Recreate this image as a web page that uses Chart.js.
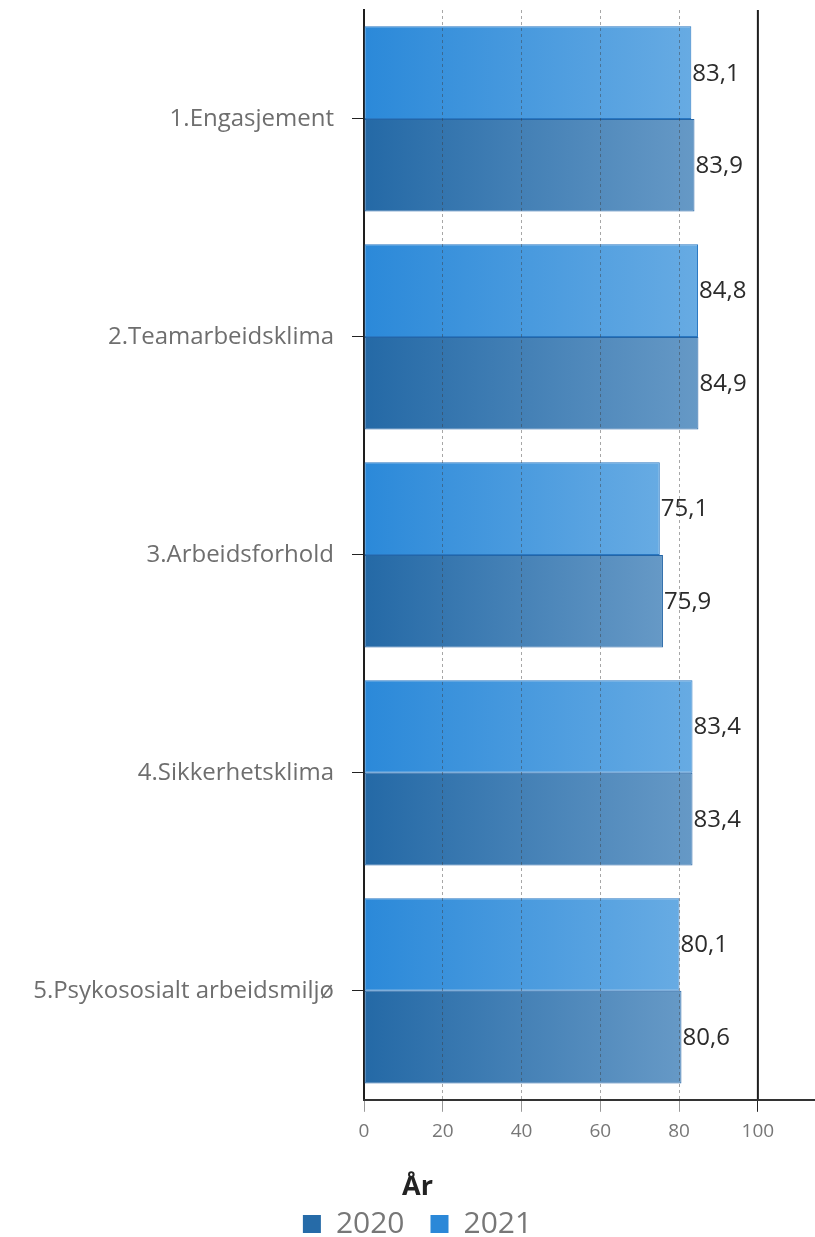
<!DOCTYPE html>
<html>
<head>
<meta charset="utf-8">
<script src="https://cdn.jsdelivr.net/npm/chart.js@4/dist/chart.umd.min.js"></script>
<style>
  body { margin: 0; background: #fff; }
  #wrap { width: 815px; height: 1237px; position: relative; }
</style>
</head>
<body>
<div id="wrap"><canvas id="barChart"></canvas></div>
<script>
const categories = ['1.Engasjement', '2.Teamarbeidsklima', '3.Arbeidsforhold', '4.Sikkerhetsklima', '5.Psykososialt arbeidsmiljø'];
const values2021 = [83.1, 84.8, 75.1, 83.4, 80.1];
const values2020 = [83.9, 84.9, 75.9, 83.4, 80.6];
const xTicks = [0, 20, 40, 60, 80, 100];

const FONT = "'Open Sans', 'Noto Sans', sans-serif";

function barGradient(from, to) {
    return function (context) {
        const chart = context.chart;
        const area = chart.chartArea;
        if (!area || context.type !== 'data') return from;
        const x = chart.scales.x;
        const x0 = x.getPixelForValue(0);
        const x1 = x.getPixelForValue(context.raw);
        const g = chart.ctx.createLinearGradient(x0, 0, x1, 0);
        g.addColorStop(0, from);
        g.addColorStop(1, to);
        return g;
    };
}

// value labels at bar ends
const valueLabels = {
    id: 'valueLabels',
    afterDatasetsDraw(chart) {
        const ctx = chart.ctx;
        ctx.save();
        ctx.font = "24px " + FONT;
        ctx.fillStyle = '#2b2b2b';
        ctx.textBaseline = 'middle';
        ctx.textAlign = 'left';
        chart.data.datasets.forEach((ds, i) => {
            chart.getDatasetMeta(i).data.forEach((el, j) => {
                const txt = ds.data[j].toFixed(1).replace('.', ',');
                ctx.fillText(txt, el.x + 1, el.y + 1);
            });
        });
        ctx.restore();
    }
};

// solid line at 100
const maxLine = {
    id: 'maxLine',
    beforeDatasetsDraw(chart) {
        const ctx = chart.ctx;
        const a = chart.chartArea;
        const px = chart.scales.x.getPixelForValue(100);
        ctx.save();
        ctx.strokeStyle = '#1e1e1e';
        ctx.lineWidth = 2;
        ctx.beginPath();
        ctx.moveTo(px, a.top);
        ctx.lineTo(px, a.bottom);
        ctx.stroke();
        ctx.restore();
    }
};

const ctx = document.getElementById('barChart').getContext('2d');
const myChart = new Chart(ctx, {
    type: 'bar',
    plugins: [valueLabels, maxLine],
    data: {
        labels: categories,
        datasets: [
            {
                label: '2021',
                data: values2021,
                backgroundColor: barGradient('#2b89d9', '#67abe3'),
                borderColor: '#2a78c2',
                borderWidth: 1,
                borderSkipped: false,
                legendColor: '#2b88d8'
            },
            {
                label: '2020',
                data: values2020,
                backgroundColor: barGradient('#2469a6', '#6699c6'),
                borderColor: '#2465a6',
                borderWidth: 1,
                borderSkipped: false,
                legendColor: '#266ba8'
            }
        ]
    },
    options: {
        indexAxis: 'y',
        responsive: true,
        maintainAspectRatio: false,
        animation: false,
        datasets: {
            bar: { categoryPercentage: 0.85, barPercentage: 1 }
        },
        layout: { padding: { top: 10, left: 20, right: 0, bottom: -12 } },
        plugins: {
            tooltip: { enabled: false },
            legend: {
                position: 'bottom',
                title: {
                    display: true,
                    text: 'År',
                    color: '#222',
                    font: { size: 27, weight: 'bold', family: FONT },
                    padding: { top: 23, bottom: -23 }
                },
                labels: {
                    color: '#777',
                    font: { size: 30, family: FONT },
                    boxWidth: 18,
                    boxHeight: 18,
                    padding: 26,
                    sort: (a, b) => b.datasetIndex - a.datasetIndex,
                    generateLabels(chart) {
                        return chart.data.datasets.map((ds, i) => ({
                            text: ds.label,
                            fillStyle: ds.legendColor,
                            strokeStyle: ds.legendColor,
                            lineWidth: 0,
                            fontColor: '#777',
                            datasetIndex: i,
                            hidden: false
                        }));
                    }
                }
            }
        },
        scales: {
            x: {
                min: 0,
                max: 114.5,
                afterBuildTicks(scale) {
                    scale.ticks = xTicks.map(v => ({ value: v }));
                },
                grid: {
                    z: 1,
                    color: c => (c.tick && (c.tick.value === 0 || c.tick.value === 100)) ? 'rgba(0,0,0,0)' : 'rgba(60,60,60,0.45)',
                    lineWidth: 1,
                    tickLength: 12,
                    tickColor: c => (c.tick && c.tick.value === 100) ? '#222' : '#999',
                    tickBorderDash: []
                },
                border: { display: true, color: '#333', width: 2, dash: [3, 3], z: 1 },
                ticks: {
                    color: '#777',
                    padding: 8,
                    font: { size: 19, family: FONT }
                }
            },
            y: {
                afterFit(scale) {
                    scale.width = 344;
                    scale.paddingTop = 0;
                    scale.paddingBottom = 0;
                },
                grid: {
                    offset: false,
                    drawOnChartArea: false,
                    tickLength: 12,
                    tickColor: '#222',
                    lineWidth: 1
                },
                border: { display: true, color: '#1e1e1e', width: 2 },
                ticks: {
                    color: '#6e6e6e',
                    padding: 18,
                    font: { size: 24, family: FONT }
                }
            }
        }
    }
});
</script>
</body>
</html>
